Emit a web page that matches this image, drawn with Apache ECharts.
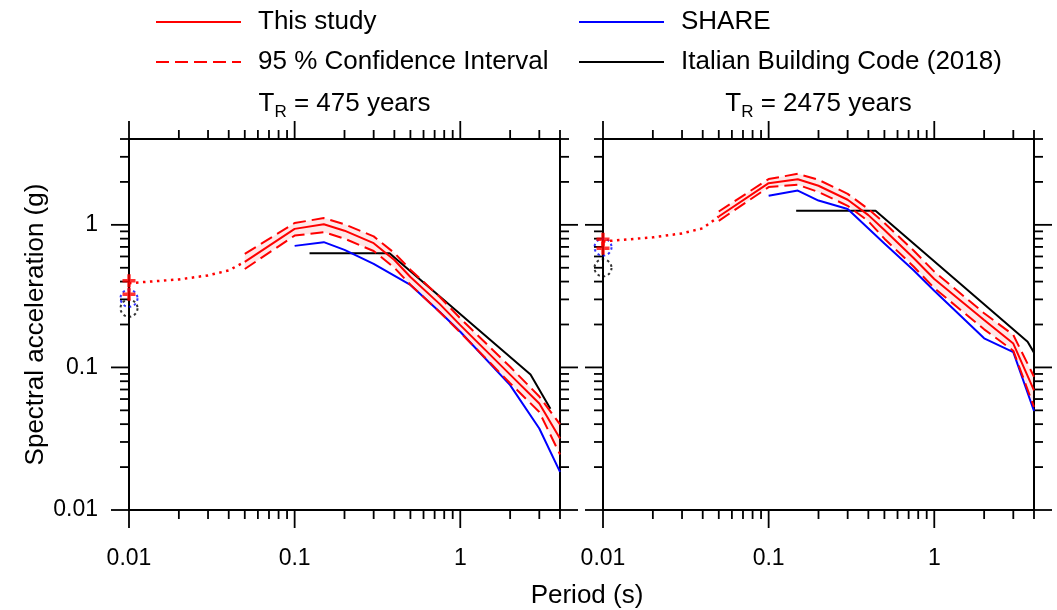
<!DOCTYPE html>
<html><head><meta charset="utf-8">
<script src="https://cdn.jsdelivr.net/npm/echarts@6/dist/echarts.min.js"></script>
<style>html,body{margin:0;padding:0;background:#fff}#c{width:1057px;height:610px}</style>
</head><body><div id="c"></div>
<script>
// ---------------- data ----------------
const periods = [0.05, 0.1, 0.15, 0.2, 0.3, 0.4, 0.5, 0.75, 1, 2, 3, 4];
const extrapPeriods = [0.01, 0.02, 0.03, 0.04, 0.05];
const sharePeriods = [0.1, 0.15, 0.2, 0.3, 0.5, 0.75, 1, 2, 3, 4];

// T_R = 475 years
const study475 = [0.55, 0.937, 1.01, 0.91, 0.744, 0.567, 0.431, 0.279, 0.198, 0.089, 0.0559, 0.0317];
const upper475 = [0.625, 1.03, 1.115, 1.01, 0.83, 0.635, 0.485, 0.313, 0.221, 0.101, 0.0625, 0.0398];
const lower475 = [0.49, 0.841, 0.889, 0.80, 0.655, 0.50, 0.38, 0.245, 0.176, 0.0775, 0.0487, 0.0245];
const extrap475 = [0.39, 0.414, 0.442, 0.479, 0.55];
const share475 = [0.712, 0.756, 0.667, 0.532, 0.379, 0.246, 0.178, 0.0751, 0.0373, 0.0185];
const ntcPeriods475 = [0.123, 0.374, 2.655, 3.5];
const ntc475 = [0.633, 0.633, 0.0892, 0.0513];
const pgaStudy475 = [0.406, 0.326];
const pgaShare475 = 0.305;
const pgaNtc475 = 0.26;

// T_R = 2475 years
const study2475 = [1.144, 1.96, 2.09, 1.88, 1.50, 1.17, 0.92, 0.586, 0.417, 0.215, 0.147, 0.069];
const upper2475 = [1.24, 2.095, 2.28, 2.07, 1.65, 1.29, 1.03, 0.66, 0.47, 0.24, 0.169, 0.086];
const lower2475 = [1.067, 1.84, 1.91, 1.70, 1.36, 1.06, 0.80, 0.51, 0.36, 0.185, 0.131, 0.0528];
const extrap2475 = [0.765, 0.817, 0.871, 0.945, 1.144];
const share2475 = [1.60, 1.74, 1.48, 1.29, 0.74, 0.48, 0.345, 0.16, 0.128, 0.0495];
const ntcPeriods2475 = [0.1466, 0.442, 3.66, 4];
const ntc2475 = [1.254, 1.254, 0.1514, 0.127];
const pgaStudy2475 = [0.793, 0.686];
const pgaShare2475 = 0.697;
const pgaNtc2475 = 0.499;

// axes
const X_MIN = 0.01, X_MAX = 4;
const Y_MIN = 0.01, Y_MAX = 4;
const majorTicks = [0.01, 0.1, 1];
const minorTicks = [0.02,0.03,0.04,0.05,0.06,0.07,0.08,0.09,0.2,0.3,0.4,0.5,0.6,0.7,0.8,0.9,2,3,4];
const panelTitles = ['475 years', '2475 years'];

// ---------------- chart ----------------
const FONT = 'Liberation Sans, Arial, sans-serif';
const RED = '#ff0000', BLUE = '#0000ff', BLACK = '#000000';
const chart = echarts.init(document.getElementById('c'), null, {renderer: 'canvas'});

const zip = (xs, ys) => xs.map((x, i) => [x, ys[i]]);
const decadeLabel = v => {
  const l = Math.log10(v);
  return Math.abs(l - Math.round(l)) < 1e-6 ? String(Number(v.toPrecision(6))) : '';
};

const grids = [
  {left: 129, top: 139, width: 431, height: 371},
  {left: 603, top: 139, width: 431, height: 371}
];

const xAxes = [], yAxes = [];
grids.forEach((g, p) => {
  const line = {show: true, onZero: false, lineStyle: {color: BLACK, width: 2}};
  xAxes.push({type: 'log', gridIndex: p, position: 'bottom', min: X_MIN, max: X_MAX, logBase: 10,
    axisLine: line, axisTick: {show: false}, splitLine: {show: false}, minorTick: {show: false},
    axisLabel: {show: true, margin: 37, fontSize: 23, color: BLACK, fontFamily: FONT, formatter: decadeLabel,
      showMinLabel: true, showMaxLabel: true}});
  xAxes.push({type: 'log', gridIndex: p, position: 'top', min: X_MIN, max: X_MAX, logBase: 10,
    axisLine: line, axisTick: {show: false}, splitLine: {show: false}, axisLabel: {show: false}});
  yAxes.push({type: 'log', gridIndex: p, position: 'left', min: Y_MIN, max: Y_MAX, logBase: 10,
    axisLine: line, axisTick: {show: false}, splitLine: {show: false},
    axisLabel: {show: p === 0, margin: 31, fontSize: 23, color: BLACK, fontFamily: FONT, formatter: decadeLabel},
    name: p === 0 ? 'Spectral acceleration (g)' : '', nameLocation: 'middle', nameGap: 80,
    nameTextStyle: {fontSize: 26, color: BLACK, fontFamily: FONT}});
  yAxes.push({type: 'log', gridIndex: p, position: 'right', min: Y_MIN, max: Y_MAX, logBase: 10,
    axisLine: line, axisTick: {show: false}, splitLine: {show: false}, axisLabel: {show: false}});
});

const tickData = (vals, major, isX) => vals.map(v => isX ? [v, Y_MIN, major] : [X_MIN, v, major]);
const xTicks = tickData(majorTicks, 1, true).concat(tickData(minorTicks, 0, true));
const yTicks = tickData(majorTicks, 1, false).concat(tickData(minorTicks, 0, false));
const TICK_STYLE = {stroke: BLACK, lineWidth: 1.8};

function xTickRender(params, api) {
  const v = api.value(0), len = api.value(2) === 1 ? 18 : 9;
  const b = api.coord([v, Y_MIN]), t = api.coord([v, Y_MAX]);
  return {type: 'group', children: [
    {type: 'line', shape: {x1: b[0], y1: b[1], x2: b[0], y2: b[1] + len}, style: TICK_STYLE},
    {type: 'line', shape: {x1: t[0], y1: t[1], x2: t[0], y2: t[1] - len}, style: TICK_STYLE}
  ]};
}
function yTickRender(params, api) {
  const v = api.value(1), len = api.value(2) === 1 ? 18 : 9;
  const l = api.coord([X_MIN, v]), r = api.coord([X_MAX, v]);
  return {type: 'group', children: [
    {type: 'line', shape: {x1: l[0], y1: l[1], x2: l[0] - len, y2: l[1]}, style: TICK_STYLE},
    {type: 'line', shape: {x1: r[0], y1: r[1], x2: r[0] + len, y2: r[1]}, style: TICK_STYLE}
  ]};
}

const PLUS = 'path://M4.4,0h3.2v4.4h4.4v3.2h-4.4v4.4h-3.2v-4.4h-4.4v-3.2h4.4z';
const DASH = [13, 6];

const panels = [
  {study: study475, upper: upper475, lower: lower475, extrap: extrap475, share: share475,
   ntcP: ntcPeriods475, ntc: ntc475, pgaS: pgaStudy475, pgaSh: pgaShare475, pgaN: pgaNtc475},
  {study: study2475, upper: upper2475, lower: lower2475, extrap: extrap2475, share: share2475,
   ntcP: ntcPeriods2475, ntc: ntc2475, pgaS: pgaStudy2475, pgaSh: pgaShare2475, pgaN: pgaNtc2475}
];

const series = [];
panels.forEach((d, p) => {
  const ax = {xAxisIndex: 2 * p, yAxisIndex: 2 * p};
  const base = Object.assign({type: 'line', symbol: 'none', clip: false, silent: true}, ax);
  // confidence band fill (polygon through the library's coordinate mapping)
  series.push(Object.assign({type: 'custom', clip: false, silent: true, name: 'band-' + p}, ax, {
    data: periods.map((x, i) => [x, d.lower[i], d.upper[i]]),
    encode: {x: 0, y: [1, 2]},
    renderItem: (params, api) => {
      if (params.dataIndexInside !== 0) return;
      const top = periods.map((x, i) => api.coord([x, d.upper[i]]));
      const bot = periods.map((x, i) => api.coord([x, d.lower[i]])).reverse();
      return {type: 'polygon', shape: {points: top.concat(bot)}, style: {fill: 'rgba(255,0,0,0.09)'}};
    }}));
  series.push(Object.assign({}, base, {name: 'Italian Building Code (2018)', data: zip(d.ntcP, d.ntc),
    lineStyle: {color: BLACK, width: 2}, itemStyle: {color: BLACK}}));
  series.push(Object.assign({}, base, {name: 'SHARE', data: zip(sharePeriods, d.share),
    lineStyle: {color: BLUE, width: 2}, itemStyle: {color: BLUE}}));
  series.push(Object.assign({}, base, {name: '95 % Confidence Interval', data: zip(periods, d.upper),
    lineStyle: {color: RED, width: 2, type: DASH}, itemStyle: {color: RED}}));
  series.push(Object.assign({}, base, {name: '95 % Confidence Interval', data: zip(periods, d.lower),
    lineStyle: {color: RED, width: 2, type: DASH}, itemStyle: {color: RED}}));
  series.push(Object.assign({}, base, {name: 'This study', data: zip(periods, d.study),
    lineStyle: {color: RED, width: 2}, itemStyle: {color: RED}}));
  series.push(Object.assign({}, base, {name: 'extrapolation-' + p, data: zip(extrapPeriods, d.extrap),
    lineStyle: {color: RED, width: 2.5, type: [2.5, 4.5]}}));
  series.push(Object.assign({type: 'scatter', clip: false, silent: true, name: 'pga-share-' + p}, ax, {
    data: [[X_MIN, d.pgaSh]], symbol: 'circle', symbolSize: 17,
    itemStyle: {color: 'transparent', borderColor: BLUE, borderWidth: 2, borderType: [2.5, 3]}}));
  series.push(Object.assign({type: 'scatter', clip: false, silent: true, name: 'pga-ntc-' + p}, ax, {
    data: [[X_MIN, d.pgaN]], symbol: 'circle', symbolSize: 17,
    itemStyle: {color: 'transparent', borderColor: BLACK, borderWidth: 2, borderType: [2.5, 3]}}));
  series.push(Object.assign({type: 'scatter', clip: false, silent: true, name: 'pga-study-' + p}, ax, {
    data: d.pgaS.map(v => [X_MIN, v]), symbol: PLUS, symbolSize: 13, itemStyle: {color: RED}}));
  series.push(Object.assign({type: 'custom', clip: false, silent: true, name: 'xticks-' + p}, ax, {
    data: xTicks, renderItem: xTickRender, encode: {x: 0, y: 1}}));
  series.push(Object.assign({type: 'custom', clip: false, silent: true, name: 'yticks-' + p}, ax, {
    data: yTicks, renderItem: yTickRender, encode: {x: 0, y: 1}}));
});

const legendCommon = {orient: 'vertical', top: 9, itemWidth: 85, itemHeight: 14, itemGap: 14, padding: 0,
  selectedMode: false, itemStyle: {opacity: 0},
  textStyle: {fontSize: 26, color: BLACK, fontFamily: FONT, lineHeight: 26, padding: [0, 0, 0, 12]}};

const titleText = t => ({
  text: '{a|T}{s|R}{a| = ' + t + '}',
  rich: {a: {fontSize: 26, fontFamily: FONT, lineHeight: 34, fill: BLACK},
         s: {fontSize: 17, fontFamily: FONT, lineHeight: 17, verticalAlign: 'bottom', fill: BLACK}},
  align: 'center', verticalAlign: 'middle', fill: BLACK
});

chart.setOption({
  animation: false,
  backgroundColor: '#fff',
  grid: grids,
  xAxis: xAxes,
  yAxis: yAxes,
  legend: [
    Object.assign({}, legendCommon, {left: 155, data: ['This study', '95 % Confidence Interval']}),
    Object.assign({}, legendCommon, {left: 578, data: ['SHARE', 'Italian Building Code (2018)']})
  ],
  graphic: [
    {type: 'text', x: 344.5, y: 104, style: titleText(panelTitles[0])},
    {type: 'text', x: 818.5, y: 104, style: titleText(panelTitles[1])},
    {type: 'text', x: 587, y: 596, style: {text: 'Period (s)', fontSize: 26, fontFamily: FONT, fill: BLACK,
      align: 'center', verticalAlign: 'middle'}}
  ],
  series: series
});
</script>
</body></html>
